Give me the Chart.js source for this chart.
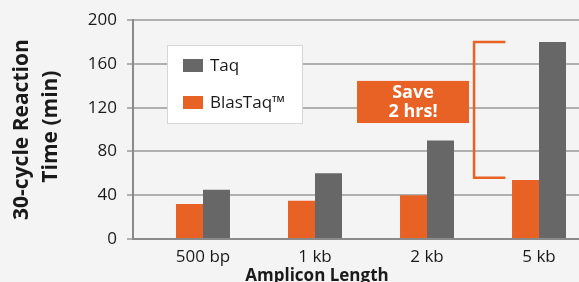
<!DOCTYPE html>
<html><head><meta charset="utf-8">
<script src="https://cdn.jsdelivr.net/npm/chart.js@4"></script>
<style>html,body{margin:0;padding:0;background:#f4f4f4;overflow:hidden}#wrap{width:579px;height:282px;position:relative}</style>
</head><body><div id="wrap"><canvas id="c" width="579" height="282"></canvas></div>
<script>
// ---- data ----
const categories = ['500 bp', '1 kb', '2 kb', '5 kb'];
const taqValues = [45, 60, 90, 180];
const blasTaqValues = [32, 35, 40, 54];
const seriesNames = ['Taq', 'BlasTaq™'];
const yTickStep = 20;
const yLabelStep = 40;
const yMin = 0, yMax = 200;
const yTitleLines = ['30-cycle Reaction', 'Time (min)'];
const xTitle = 'Amplicon Length';
const calloutLines = ['Save', '2 hrs!'];
const bracketValues = [56, 180];

// ---- style ----
const ORANGE = '#e86226';
const GRAY = '#676767';
const FONT = '"Open Sans", "Noto Sans", sans-serif';
const TEXT = '#1a1a1a';

const decor = {
  id: 'decor',
  beforeDraw(chart) {
    const ctx = chart.ctx;
    ctx.save();
    ctx.fillStyle = '#f4f4f4';
    ctx.fillRect(0, 0, chart.width, chart.height);
    ctx.restore();
  },
  afterDatasetsDraw(chart) {
    const ctx = chart.ctx;
    const xs = chart.scales.x, ys = chart.scales.y;
    ctx.save();
    // legend
    ctx.fillStyle = '#ffffff';
    ctx.fillRect(167, 45, 135, 78);
    ctx.strokeStyle = '#d6d6d6';
    ctx.lineWidth = 1;
    ctx.strokeRect(167.5, 45.5, 135, 78);
    ctx.fillStyle = GRAY;
    ctx.fillRect(183, 59, 20, 13);
    ctx.fillStyle = ORANGE;
    ctx.fillRect(183, 96, 20, 13);
    ctx.fillStyle = TEXT;
    ctx.font = '17px ' + FONT;
    ctx.textAlign = 'left';
    ctx.textBaseline = 'middle';
    ctx.fillText(seriesNames[0], 210, 66);
    ctx.fillText(seriesNames[1], 210, 103);

    // callout box
    const bx0 = xs.getPixelForValue(1.375), bx1 = xs.getPixelForValue(2.375);
    const by0 = ys.getPixelForValue(144.5), by1 = ys.getPixelForValue(106);
    ctx.fillStyle = ORANGE;
    ctx.fillRect(bx0, by0, bx1 - bx0, by1 - by0);
    ctx.fillStyle = '#ffffff';
    ctx.font = 'bold 18px ' + FONT;
    ctx.textAlign = 'center';
    ctx.textBaseline = 'middle';
    const cx = (bx0 + bx1) / 2, cy = (by0 + by1) / 2;
    ctx.fillText(calloutLines[0], cx, cy - 9);
    ctx.fillText(calloutLines[1], cx, cy + 10);

    // bracket
    const lx = xs.getPixelForValue(2.42), rx = xs.getPixelForValue(2.70);
    const ty = ys.getPixelForValue(bracketValues[1]), bty = ys.getPixelForValue(bracketValues[0]);
    ctx.strokeStyle = ORANGE;
    ctx.lineWidth = 2.5;
    ctx.beginPath();
    ctx.moveTo(rx, ty); ctx.lineTo(lx, ty); ctx.lineTo(lx, bty); ctx.lineTo(rx, bty);
    ctx.stroke();
    ctx.restore();
  },
  afterDraw(chart) {
    const ctx = chart.ctx;
    const a = chart.chartArea;
    ctx.save();
    ctx.fillStyle = TEXT;
    ctx.font = 'bold 21px ' + FONT;
    ctx.textAlign = 'center';
    ctx.textBaseline = 'middle';
    const cy = (a.top + a.bottom) / 2;
    ctx.translate(22, cy);
    ctx.rotate(-Math.PI / 2);
    ctx.fillText(yTitleLines[0], 0, 0);
    ctx.fillText(yTitleLines[1], 3, 29);
    ctx.restore();
    ctx.save();
    ctx.fillStyle = TEXT;
    ctx.font = 'bold 17px ' + FONT;
    ctx.textAlign = 'center';
    ctx.textBaseline = 'alphabetic';
    ctx.fillText(xTitle, 317, 281);
    ctx.restore();
  }
};

new Chart(document.getElementById('c'), {
  type: 'bar',
  data: {
    datasets: [
      { label: seriesNames[1], data: categories.map((c, i) => ({ x: i, y: blasTaqValues[i] })), backgroundColor: ORANGE },
      { label: seriesNames[0], data: categories.map((c, i) => ({ x: i, y: taqValues[i] })), backgroundColor: GRAY }
    ]
  },
  options: {
    responsive: false,
    animation: false,
    devicePixelRatio: 1,
    layout: { padding: { top: 20, right: 0, bottom: 0, left: 0 } },
    datasets: { bar: { categoryPercentage: 0.482, barPercentage: 1, borderWidth: 0 } },
    plugins: { legend: { display: false }, tooltip: { enabled: false }, title: { display: false } },
    scales: {
      x: {
        type: 'linear',
        offset: false,
        min: -0.625,
        max: 3.357,
        afterBuildTicks: s => { s.ticks = categories.map((c, i) => ({ value: i })); },
        afterFit: s => { s.height = 43; },
        ticks: { callback: v => categories[v], color: TEXT, font: { family: FONT, size: 17 }, padding: 8, maxRotation: 0, autoSkip: false },
        grid: { display: false, drawTicks: false, offset: false },
        border: { color: '#8a8a8a', width: 2 }
      },
      y: {
        min: yMin,
        max: yMax,
        afterFit: s => { s.width = 133; },
        ticks: { stepSize: yTickStep, callback: v => (v % yLabelStep === 0 ? String(v) : ''), color: TEXT, font: { family: FONT, size: 17 }, padding: 10 },
        grid: { color: '#b0b0b0', lineWidth: 2, tickLength: 6, drawTicks: true },
        border: { color: '#8a8a8a', width: 2 }
      }
    }
  },
  plugins: [decor]
});
</script></body></html>
